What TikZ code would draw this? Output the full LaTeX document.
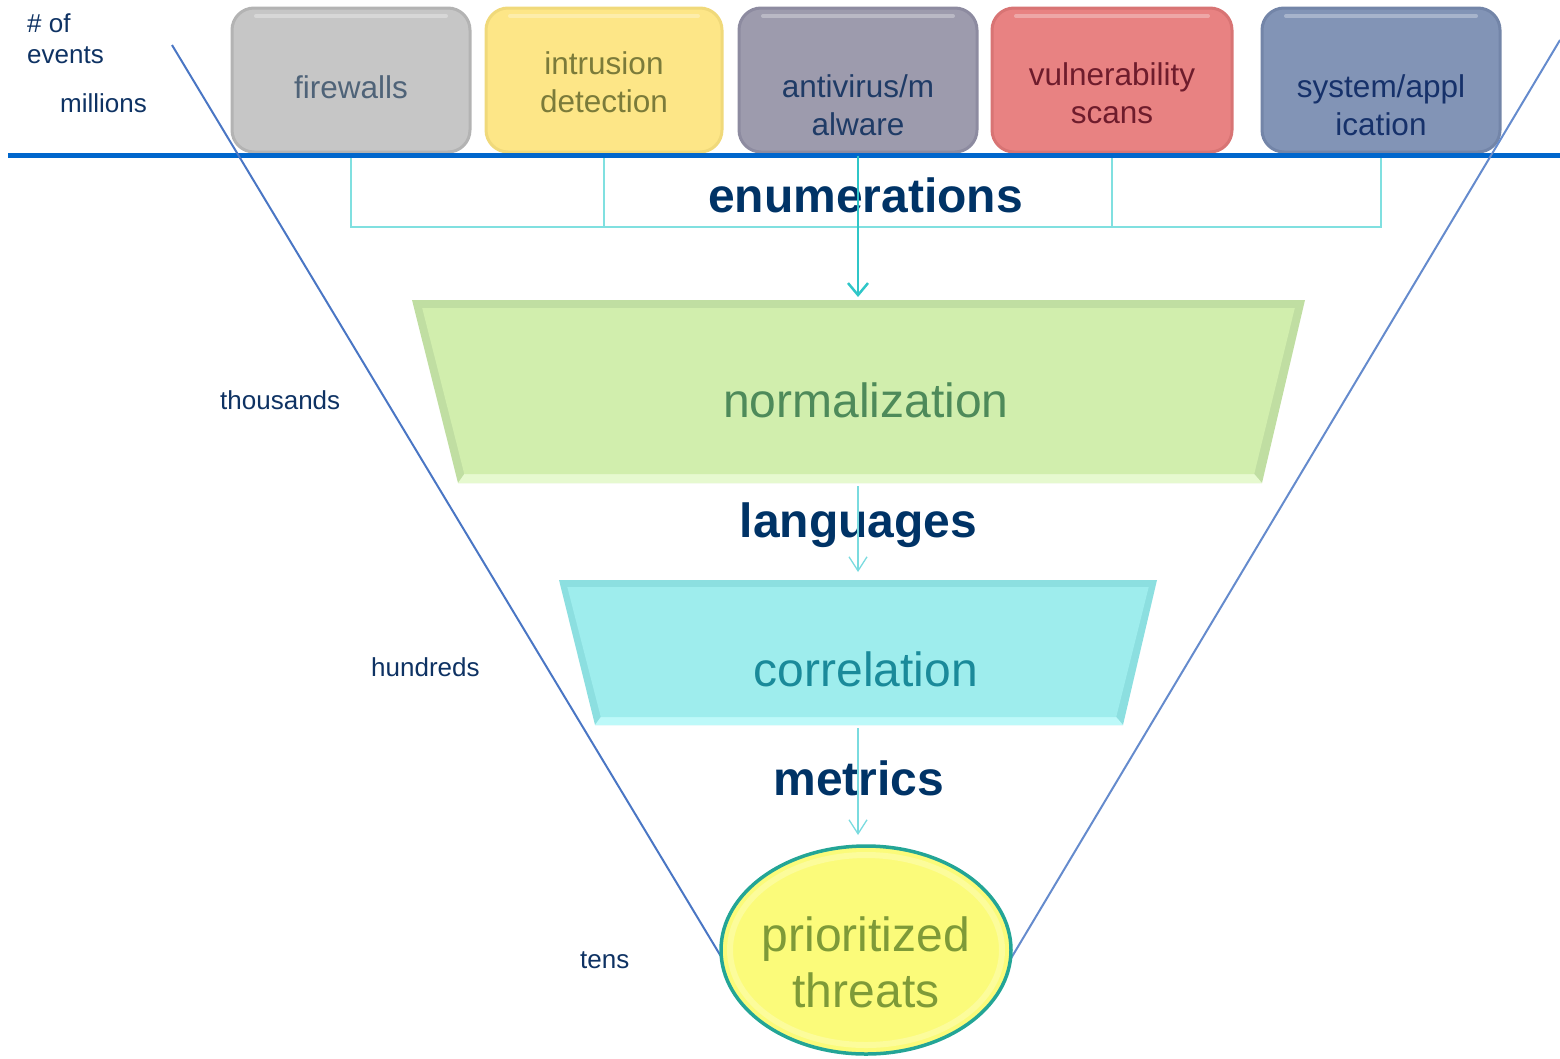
\documentclass[tikz,border=0pt]{standalone}
\usepackage{fontspec}
\setmainfont{Liberation Sans}
\usetikzlibrary{arrows.meta,shapes.geometric}

\definecolor{navy}{HTML}{0E3263}
\definecolor{boldnavy}{HTML}{003366}
\definecolor{rulecol}{HTML}{0066CC}
\definecolor{funnelcol}{HTML}{4A76C4}
\definecolor{bracketcol}{HTML}{80E0E0}
\definecolor{flowcol}{HTML}{2FC6C8}
\definecolor{flowlight}{HTML}{7ADBDF}
% source boxes
\definecolor{fwfill}{HTML}{C6C6C6}\definecolor{fwedge}{HTML}{B3B3B3}\definecolor{fwtext}{HTML}{4F6378}
\definecolor{idsfill}{HTML}{FDE687}\definecolor{idsedge}{HTML}{F0D97A}\definecolor{idstext}{HTML}{7B7B3A}
\definecolor{avfill}{HTML}{9D9BAD}\definecolor{avedge}{HTML}{8D8BA0}\definecolor{avtext}{HTML}{1F3B66}
\definecolor{vsfill}{HTML}{E88282}\definecolor{vsedge}{HTML}{D87474}\definecolor{vstext}{HTML}{6E1C2C}
\definecolor{safill}{HTML}{8294B6}\definecolor{saedge}{HTML}{7385A8}\definecolor{satext}{HTML}{16316A}
% funnel stages
\definecolor{normfill}{HTML}{D1EEAD}\definecolor{normedge}{HTML}{C0DEA2}\definecolor{normlight}{HTML}{E6F9CF}\definecolor{normtext}{HTML}{4E8A5A}
\definecolor{corrfill}{HTML}{9EEDED}\definecolor{corredge}{HTML}{8CDFE0}\definecolor{corrlight}{HTML}{BDF9F9}\definecolor{corrtext}{HTML}{1A8A9A}
\definecolor{thrfill}{HTML}{FBFB7A}\definecolor{thredge}{HTML}{23A596}\definecolor{thrtext}{HTML}{7E9A38}

\begin{document}
\begin{tikzpicture}[x=1pt,y=-1pt,
  srcbox/.style={rounded corners=22pt, minimum width=238pt, minimum height=144pt,
    line width=3pt, inner sep=0pt,
    path picture={\draw[white,opacity=.3,line width=4pt,line cap=round]
      ([xshift=24pt,yshift=-8pt]path picture bounding box.north west) --
      ([xshift=-24pt,yshift=-8pt]path picture bounding box.north east);}},
  srctext/.style={font=\fontsize{31.5}{38}\selectfont, align=center, inner sep=0pt},
  sidelabel/.style={font=\fontsize{26}{31}\selectfont, text=navy, inner sep=0pt, anchor=base west},
  stagelabel/.style={font=\bfseries\fontsize{48}{56}\selectfont, text=boldnavy, inner sep=0pt, anchor=base},
  stagetext/.style={font=\fontsize{48}{56}\selectfont, inner sep=0pt, anchor=base},
  bracketline/.style={draw=bracketcol, line width=2pt},
  mainflow/.style={draw=flowcol, line width=2.5pt, -{Straight Barb[length=12pt,width=20pt,line width=2.5pt]}},
  thinflow/.style={draw=flowlight, line width=1.3pt, -{Straight Barb[length=14pt,width=18pt,line width=1.3pt]}},
  funnelline/.style={draw=funnelcol, line width=2pt}
]
\useasboundingbox (0,0) rectangle (1560,1058);

% axis labels
\node[sidelabel] (lblof) at (27,32) {\# of};
\node[sidelabel] (lblev) at (27,63) {events};
\node[sidelabel] (lblmil) at (60,112) {millions};
\node[sidelabel] (lblth) at (220,409) {thousands};
\node[sidelabel] (lblhu) at (371,676) {hundreds};
\node[sidelabel] (lblte) at (580,968) {tens};

% event sources
\node[srcbox, fill=fwfill, draw=fwedge] (fw) at (351,80) {};
\node[srcbox, fill=idsfill, draw=idsedge, minimum width=236pt] (ids) at (604,80) {};
\node[srcbox, fill=avfill, draw=avedge] (av) at (858,80) {};
\node[srcbox, fill=vsfill, draw=vsedge, minimum width=240pt] (vs) at (1112,80) {};
\node[srcbox, fill=safill, draw=saedge] (sa) at (1381,80) {};

\node[srctext, text=fwtext, anchor=base] (fwt) at (351,98) {firewalls};
\node[srctext, text=idstext] (idst) at (604,82.5) {intrusion\\detection};
\node[srctext, text=avtext] (avt) at (858,105) {antivirus/m\\alware};
\node[srctext, text=vstext] (vst) at (1112,93.5) {vulnerability\\scans};
\node[srctext, text=satext] (sat) at (1381,105) {system/appl\\ication};

% collecting brackets under the sources
\coordinate (ruleL) at (8,155.5);
\coordinate (ruleR) at (1560,155.5);
\coordinate (bkt) at (858,227);
\draw[bracketline] (fw.south |- ruleL) -- (fw.south |- bkt) -- (sa.south |- bkt) -- (sa.south |- ruleL);
\draw[bracketline] (ids.south |- ruleL) -- (ids.south |- bkt) -- (vs.south |- bkt) -- (vs.south |- ruleL);

% horizontal rule
\draw[rulecol, line width=5pt] (ruleL) -- (ruleR);

% funnel outline
\coordinate (fl1) at (172,45);
\coordinate (fl2) at (743,993);
\coordinate (fr1) at (1560,40);
\coordinate (fr2) at (1010,960);
\draw[funnelline] (fl1) -- (fl2);
\draw[funnelline, draw=funnelcol!85!white] (fr1) -- (fr2);

% enumerations
\node[stagelabel] (enum) at (865.5,212) {enumerations};
\coordinate (normtop) at (858,297);
\draw[mainflow] (av.south |- ruleL) -- (normtop);

% normalization stage (bevelled trapezoid)
\coordinate (n1) at (412,300);   \coordinate (n2) at (1305,300);
\coordinate (n3) at (1262,483);  \coordinate (n4) at (458,483);
\coordinate (ni1) at (422.2,308); \coordinate (ni2) at (1294.8,308);
\coordinate (ni3) at (1254.2,474); \coordinate (ni4) at (464.3,474);
\fill[normedge] (n1) -- (n2) -- (n3) -- (n4) -- cycle;
\fill[normlight] (n4) -- (n3) -- (ni3) -- (ni4) -- cycle;
\fill[normfill] (ni1) -- (ni2) -- (ni3) -- (ni4) -- cycle;
\node[stagetext, text=normtext] (norm) at (866,417) {normalization};

% languages
\node[stagelabel] (lang) at (858.5,537) {languages};
\coordinate (normbot) at (858,486);
\coordinate (corrtop) at (858,572);
\draw[thinflow] (normbot) -- (corrtop);

% correlation stage
\coordinate (c1) at (559,580);   \coordinate (c2) at (1157,580);
\coordinate (c3) at (1123,725);  \coordinate (c4) at (595,725);
\coordinate (ci1) at (567.3,587); \coordinate (ci2) at (1148.7,587);
\coordinate (ci3) at (1116.2,717); \coordinate (ci4) at (600.8,717);
\fill[corredge] (c1) -- (c2) -- (c3) -- (c4) -- cycle;
\fill[corrlight] (c4) -- (c3) -- (ci3) -- (ci4) -- cycle;
\fill[corrfill] (ci1) -- (ci2) -- (ci3) -- (ci4) -- cycle;
\node[stagetext, text=corrtext] (corr) at (866,686) {correlation};

% metrics
\node[stagelabel] (met) at (859,795) {metrics};
\coordinate (corrbot) at (858,728);
\coordinate (thrtop) at (858,835);
\draw[thinflow] (corrbot) -- (thrtop);

% prioritized threats
\node[ellipse, draw=thredge, line width=3.5pt, fill=thrfill,
      minimum width=290pt, minimum height=208pt, inner sep=0pt] (thr) at (866,950) {};
\draw[white, opacity=.25, line width=6pt] (thr.center) ellipse [x radius=136, y radius=95];
\node[stagetext, text=thrtext, align=center, anchor=center] (thrt) at (866,962.8) {prioritized\\threats};
\end{tikzpicture}
\end{document}
